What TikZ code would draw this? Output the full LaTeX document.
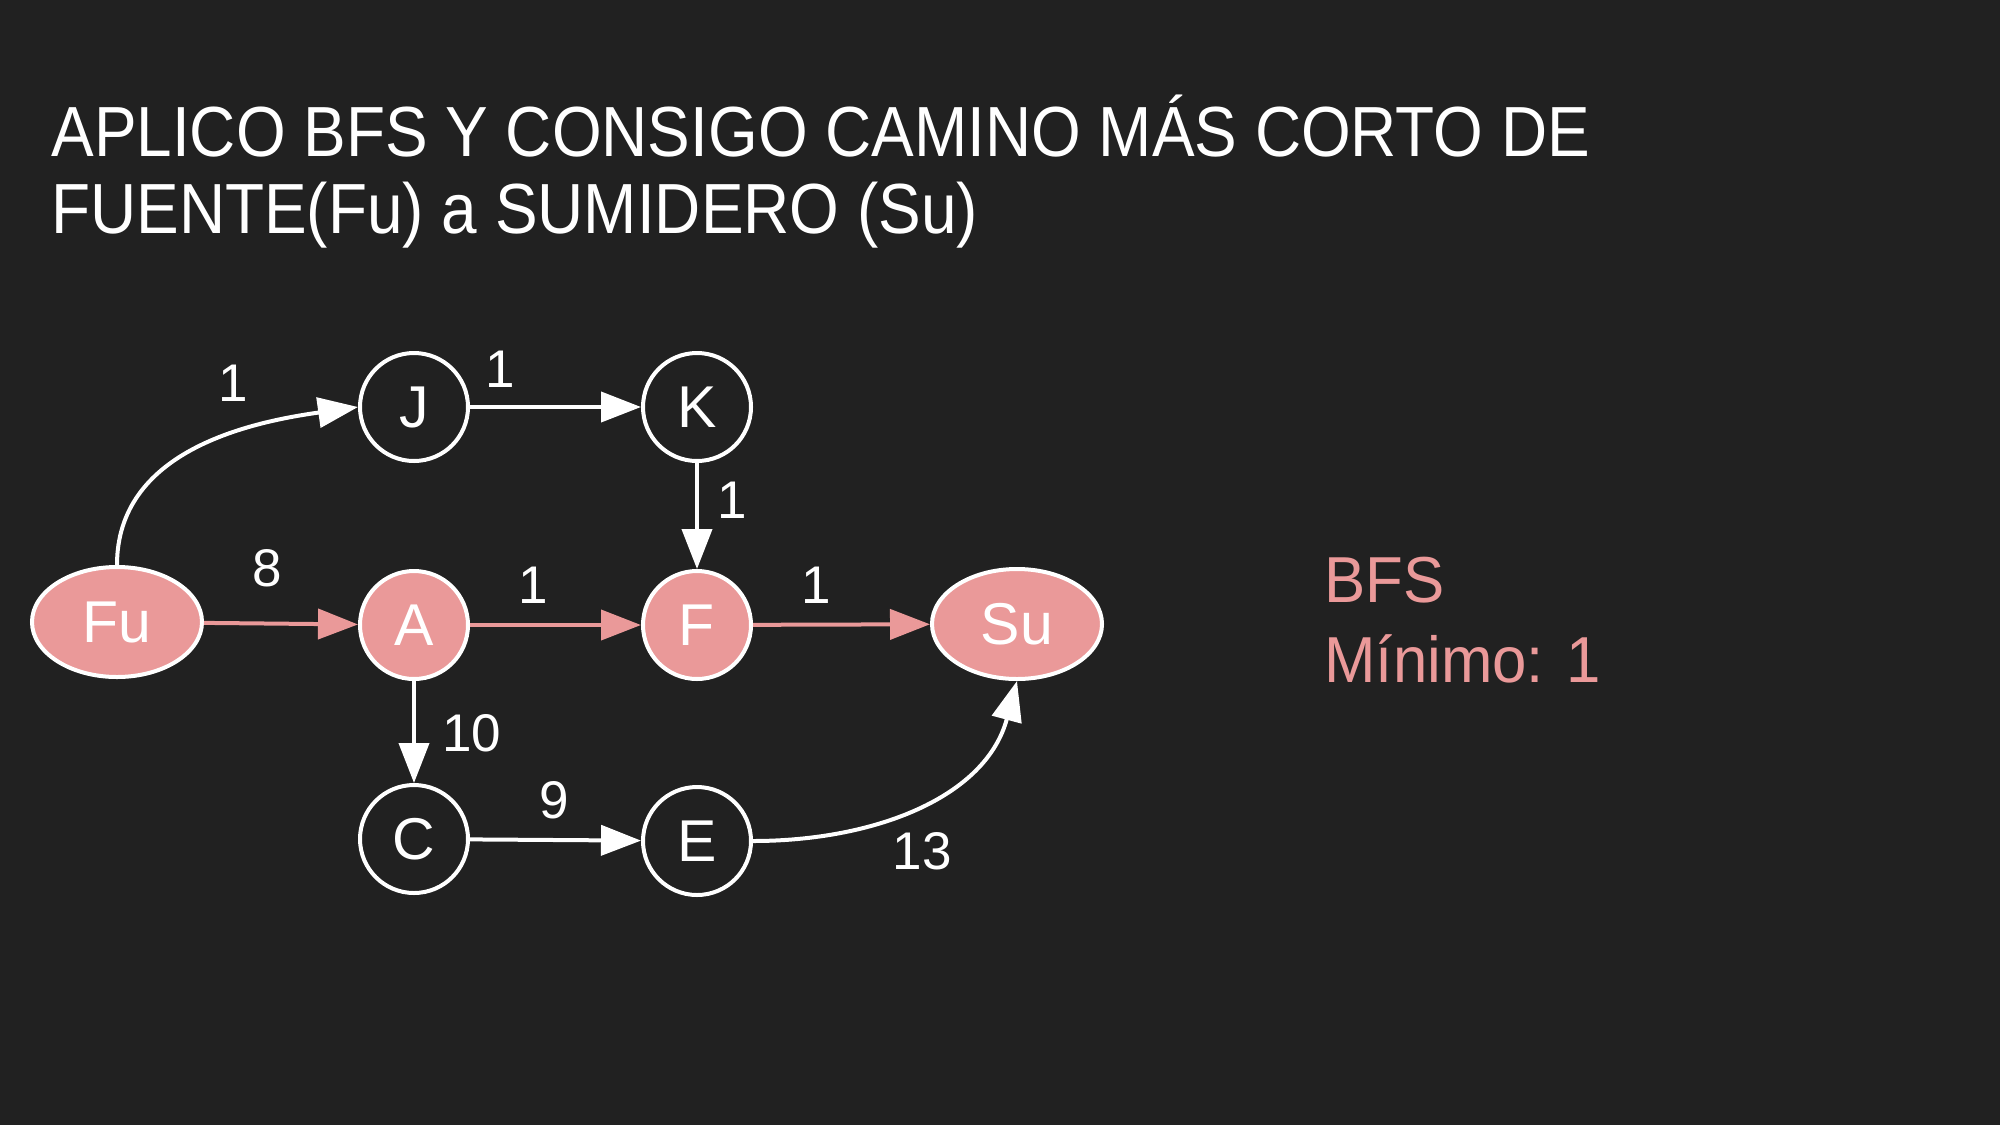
\documentclass[tikz,border=0pt]{standalone}
\usepackage{fontspec}
\setmainfont{Liberation Sans}
\newfontfamily\ttlfont[FakeStretch=0.9]{Liberation Sans}
\newfontfamily\sidefont[FakeStretch=0.95]{Liberation Sans}
\usetikzlibrary{shapes.geometric,arrows.meta}
\definecolor{bg}{HTML}{212121}
\definecolor{pk}{HTML}{EA9999}
\tikzset{
  vert/.style={circle,draw=white,line width=2pt,minimum size=54pt,inner sep=0pt,text=white,font=\fontsize{29.5}{30}\selectfont},
  vertpk/.style={vert,fill=pk},
  endpt/.style={ellipse,draw=white,line width=2pt,minimum width=85pt,minimum height=55pt,inner sep=0pt,fill=pk,text=white,font=\fontsize{29.5}{30}\selectfont},
  edge/.style={draw=white,line width=2pt,-{Triangle[length=20pt,width=15pt]}},
  edgepk/.style={edge,draw=pk},
  wlab/.style={text=white,font=\fontsize{26.5}{27}\selectfont,inner sep=0pt},
  ttl/.style={text=white,font=\ttlfont\fontsize{35.5}{39}\selectfont,anchor=base west,inner sep=0pt},
  side/.style={text=pk,font=\sidefont\fontsize{32.5}{36}\selectfont,anchor=base west,inner sep=0pt}
}
\begin{document}
\begin{tikzpicture}[x=0.5pt,y=-0.5pt]
\fill[bg] (0,0) rectangle (2000,1125);
\useasboundingbox (0,0) rectangle (2000,1125);
\node[ttl] (title1) at (51,156) {APLICO BFS Y CONSIGO CAMINO MÁS CORTO DE};
\node[ttl] (title2) at (51,233) {FUENTE(Fu) a SUMIDERO (Su)};
\node[endpt] (Fu) at (117,622) {Fu};
\node[vert] (J) at (414,407) {J};
\node[vert] (K) at (697,407) {K};
\node[vertpk] (A) at (414,625) {A};
\node[vertpk] (F) at (697,625) {F};
\node[endpt] (Su) at (1017,624) {Su};
\node[vert] (C) at (414,839) {C};
\node[vert] (E) at (697,841) {E};
\draw[edge] (Fu.north) to[out=90,in=188] (J.west);
\draw[edge] (J) -- (K);
\draw[edge] (K) -- (F);
\draw[edgepk] (Fu) -- (A);
\draw[edgepk] (A) -- (F);
\draw[edgepk] (F) -- (Su);
\draw[edge] (A) -- (C);
\draw[edge] (C) -- (E);
\draw[edge] (E.east) to[out=0,in=-105] (Su.south);
\node[wlab] (l1) at (233,383) {1};
\node[wlab] (l2) at (500,369) {1};
\node[wlab] (l3) at (732,500) {1};
\node[wlab] (l4) at (267,568) {8};
\node[wlab] (l5) at (533,585) {1};
\node[wlab] (l6) at (816,585) {1};
\node[wlab] (l7) at (472,733) {10};
\node[wlab] (l8) at (554,800) {9};
\node[wlab] (l9) at (922,851) {13};
\node[side] (bfs) at (1324,602) {BFS};
\node[side] (mini) at (1324,682) {Mínimo: 1};
\end{tikzpicture}
\end{document}
